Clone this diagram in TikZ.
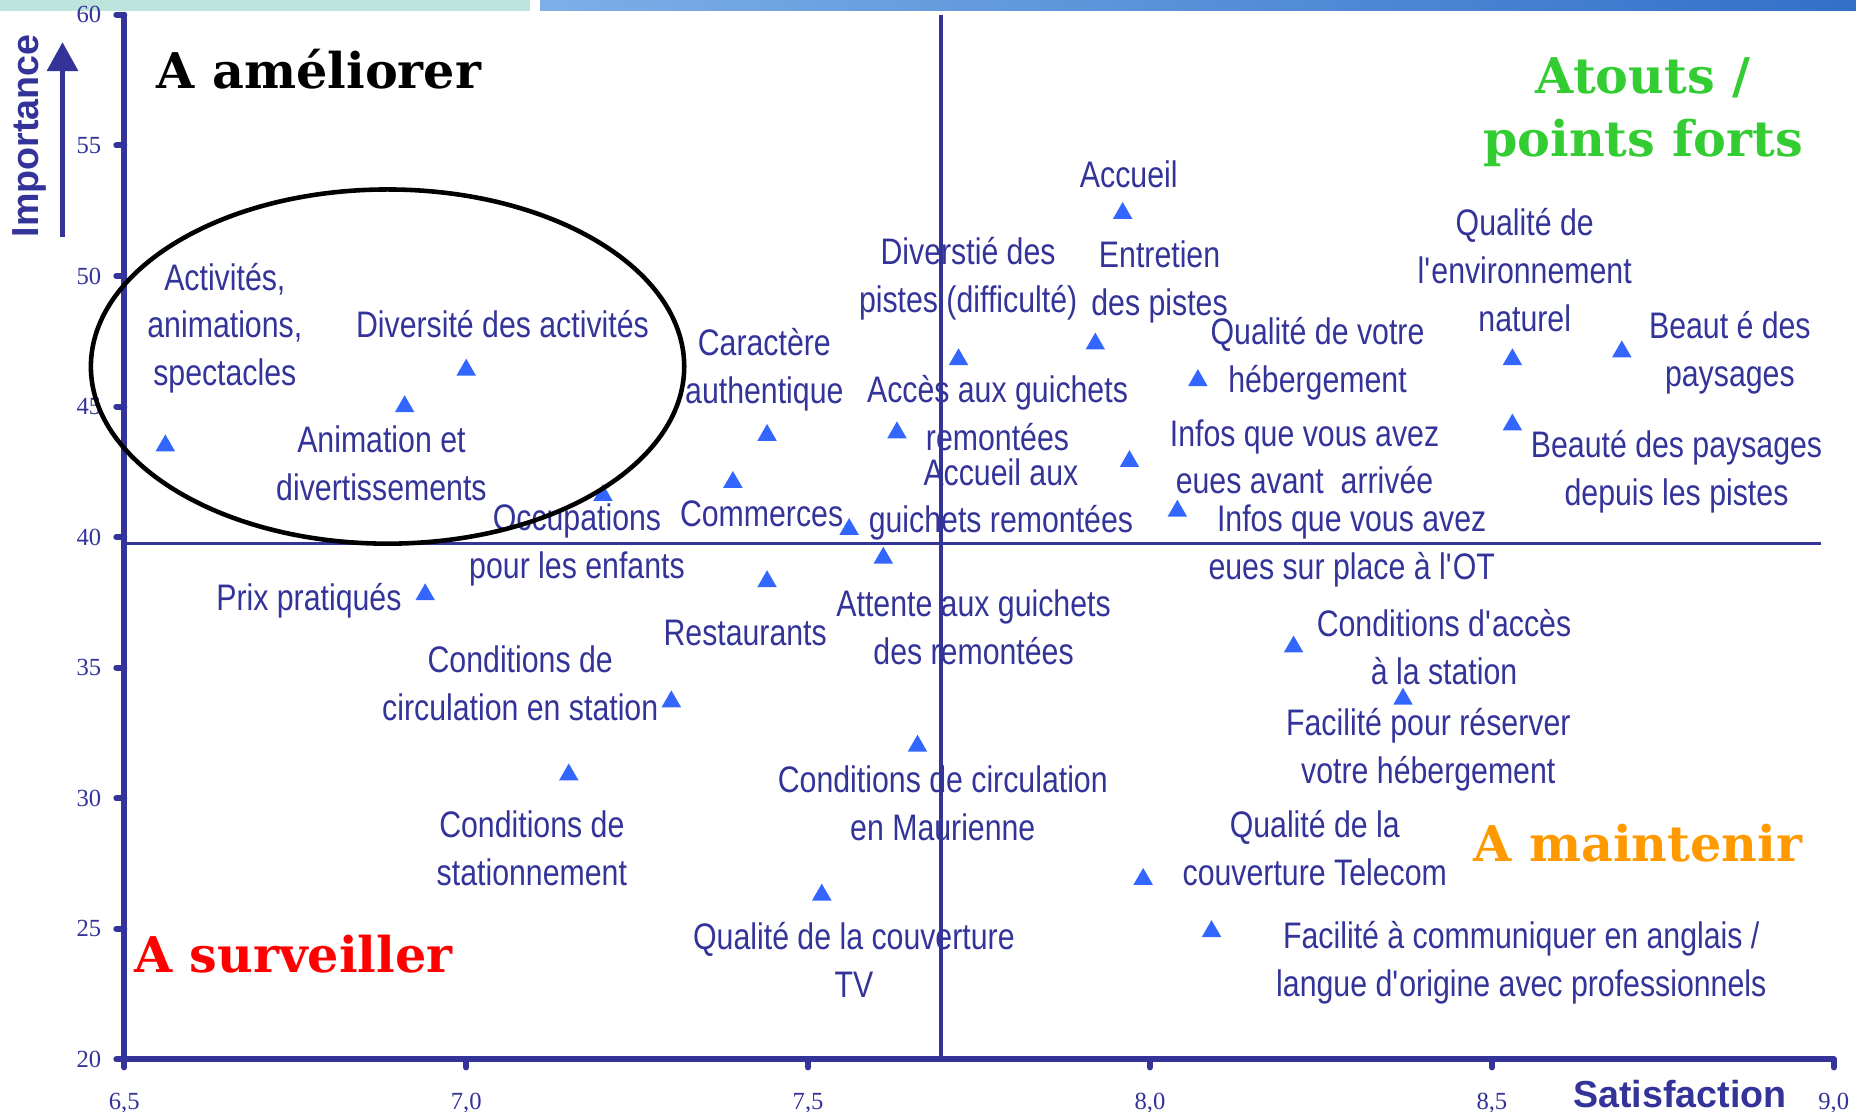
\documentclass[tikz,border=0pt]{standalone}
\usepackage{fontspec}
\usepackage{tikz}
\usetikzlibrary{shapes.geometric, arrows.meta}
\setmainfont{Liberation Sans}[FakeStretch=0.82]
\newfontfamily\axisfont{Liberation Sans}
\newfontfamily\tickfont{Liberation Serif}
\newfontfamily\quadfont{DejaVu Serif}
\definecolor{axisblue}{RGB}{51,51,153}
\definecolor{markblue}{RGB}{51,102,255}
\definecolor{atoutgreen}{RGB}{51,204,51}
\definecolor{maintorange}{RGB}{255,153,0}
\definecolor{bannerteal}{RGB}{190,228,222}

\begin{document}
\begin{tikzpicture}[x=0.01cm, y=-0.01cm,
      point/.style={regular polygon, regular polygon sides=3, fill=markblue, inner sep=0pt, minimum size=2.25mm},
      lbl/.style={align=center, text=axisblue, inner sep=0pt, yshift=-0.25mm, font=\fontsize{10.5}{13.6}\selectfont},
      tick/.style={text=axisblue, inner sep=0pt, font=\tickfont\fontsize{7}{8}\selectfont},
      quad/.style={font=\quadfont\bfseries\fontsize{14}{18}\selectfont, inner sep=0pt},
      axis/.style={draw=axisblue, line width=1.7pt, line cap=round},
      median/.style={draw=axisblue, line width=1pt}]
  \useasboundingbox (0,0) rectangle (1856,1112);
  \fill[bannerteal] (0,0) rectangle (530,11);
  \shade[left color={rgb,255:red,125;green,175;blue,232}, right color={rgb,255:red,50;green,112;blue,200}] (540,0) rectangle (1856,11);

  \begin{scope}[shift={(124.3,1059.4)}, x=6.834cm, y=0.261cm, shift={(-6.5,-20)}]
    \draw[axis] (6.5,60) -- (6.5,20) -- (9,20);
    \foreach \v in {20,25,...,60}
      \draw[axis] (6.5,\v) -- ++(-0.8mm,0) node[tick, anchor=east, xshift=-1.2mm] (yt\v) {\v};
    \foreach \v/\t [count=\n] in {6.5/{6,5},7/{7,0},7.5/{7,5},8/{8,0},8.5/{8,5},9/{9,0}}
      \draw[axis] (\v,20) -- ++(0,-0.8mm) node[tick, anchor=base, yshift=-4.16mm] (xt\n) {\t};

    \node[point] (activites) at (6.56,43.5) {};
    \node[lbl] (activites-t) at (6.647,48.10) {Activités,\\animations,\\spectacles};
    \node[point] (animation) at (6.91,45.0) {};
    \node[lbl] (animation-t) at (6.876,42.93) {Animation et\\divertissements};
    \node[point] (divact) at (7.00,46.4) {};
    \node[lbl] (divact-t) at (7.053,48.25) {Diversité des activités};
    \node[point] (occupations) at (7.20,41.6) {};
    \node[lbl] (occupations-t) at (7.162,39.80) {Occupations\\pour les enfants};
    \node[point] (caractere) at (7.44,43.9) {};
    \node[lbl] (caractere-t) at (7.436,46.49) {Caractère\\authentique};
    \node[point] (commerces) at (7.39,42.1) {};
    \node[lbl] (commerces-t) at (7.432,41.00) {Commerces};
    \node[point] (accgui) at (7.56,40.3) {};
    \node[lbl] (accgui-t) at (7.782,41.54) {Accueil aux\\guichets remontées};
    \node[point] (attente) at (7.61,39.2) {};
    \node[lbl] (attente-t) at (7.742,36.64) {Attente aux guichets\\des remontées};
    \node[point] (restaurants) at (7.44,38.3) {};
    \node[lbl] (restaurants-t) at (7.408,36.42) {Restaurants};
    \node[point] (prix) at (6.94,37.8) {};
    \node[lbl] (prix-t) at (6.770,37.64) {Prix pratiqués};
    \node[point] (circstation) at (7.30,33.7) {};
    \node[lbl] (circstation-t) at (7.079,34.49) {Conditions de\\circulation en station};
    \node[point] (stationnement) at (7.15,30.9) {};
    \node[lbl] (stationnement-t) at (7.096,28.19) {Conditions de\\stationnement};
    \node[point] (maurienne) at (7.66,32.0) {};
    \node[lbl] (maurienne-t) at (7.697,29.89) {Conditions de circulation\\en Maurienne};
    \node[point] (tv) at (7.52,26.3) {};
    \node[lbl] (tv-t) at (7.567,23.90) {Qualité de la couverture\\TV};
    \node[point] (divpistes) at (7.72,46.8) {};
    \node[lbl] (divpistes-t) at (7.734,50.00) {Diverstié des\\pistes (difficulté)};
    \node[point] (acces) at (7.63,44.0) {};
    \node[lbl] (acces-t) at (7.777,44.85) {Accès aux guichets\\remontées};
    \node[point] (accueil) at (7.96,52.4) {};
    \node[lbl] (accueil-t) at (7.969,53.97) {Accueil};
    \node[point] (entretien) at (7.92,47.4) {};
    \node[lbl] (entretien-t) at (8.014,49.86) {Entretien\\des pistes};
    \node[point] (hebergement) at (8.07,46.0) {};
    \node[lbl] (hebergement-t) at (8.245,46.94) {Qualité de votre\\hébergement};
    \node[point] (infosavant) at (7.97,42.9) {};
    \node[lbl] (infosavant-t) at (8.226,43.17) {Infos que vous avez\\eues avant\ \ arrivée};
    \node[point] (infosplace) at (8.04,41.0) {};
    \node[lbl] (infosplace-t) at (8.295,39.77) {Infos que vous avez\\eues sur place à l\textquotesingle OT};
    \node[point] (environnement) at (8.53,46.8) {};
    \node[lbl] (environnement-t) at (8.548,50.32) {Qualité de\\l\textquotesingle environnement\\naturel};
    \node[point] (paysages) at (8.69,47.1) {};
    \node[lbl] (paysages-t) at (8.848,47.17) {Beaut é des\\paysages};
    \node[point] (paypistes) at (8.53,44.3) {};
    \node[lbl] (paypistes-t) at (8.770,42.59) {Beauté des paysages\\depuis les pistes};
    \node[point] (accstation) at (8.21,35.8) {};
    \node[lbl] (accstation-t) at (8.430,35.87) {Conditions d\textquotesingle accès\\à la station};
    \node[point] (reserver) at (8.37,33.8) {};
    \node[lbl] (reserver-t) at (8.407,31.95) {Facilité pour réserver\\votre hébergement};
    \node[point] (telecom) at (7.99,26.9) {};
    \node[lbl] (telecom-t) at (8.241,28.19) {Qualité de la\\couverture Telecom};
    \node[point] (anglais) at (8.09,24.9) {};
    \node[lbl] (anglais-t) at (8.543,23.81) {Facilité à communiquer en anglais /\\langue d\textquotesingle origine avec professionnels};

    \draw[median] (7.694,60) -- (7.694,20);
    \draw[median] (6.5,39.75) -- (8.981,39.75);
    \draw[line width=1.3pt] (6.885,46.53) ellipse [x radius=2.965cm, y radius=1.77cm];
  \end{scope}

  \coordinate (imp-foot) at (62.5,237);
  \coordinate (imp-tip) at (62.5,42);
  \draw[axisblue, line width=1.7pt, -{Triangle[length=2.9mm, width=3mm]}] (imp-foot) -- (imp-tip);
  \node[rotate=90, text=axisblue, inner sep=0pt, font=\axisfont\bfseries\fontsize{10.7}{12}\selectfont] (importance) at (29,136) {Importance};
  \node[anchor=base, text=axisblue, inner sep=0pt, font=\axisfont\bfseries\fontsize{10.7}{12}\selectfont] (satisfaction) at (1680,1107) {Satisfaction};

  \node[quad, anchor=base] (ameliorer) at (319,88) {A améliorer};
  \node[quad, text=atoutgreen, align=center] (atouts) at (1643,112) {Atouts /\\points forts};
  \node[quad, text=maintorange, anchor=base] (maintenir) at (1638,861) {A maintenir};
  \node[quad, text=red, anchor=base] (surveiller) at (293.5,972) {A surveiller};
\end{tikzpicture}
\end{document}
